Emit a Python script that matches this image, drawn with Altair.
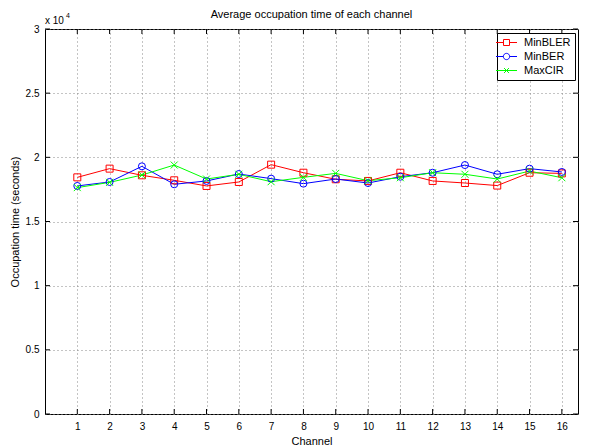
import altair as alt
import pandas as pd

channels = list(range(1, 17))
series_names = ["MinBLER", "MinBER", "MaxCIR"]
min_bler = [18440, 19120, 18600, 18210, 17770, 18080, 19430, 18800,
            18290, 18160, 18800, 18160, 18000, 17800, 18800, 18750]
min_ber = [17770, 18080, 19300, 17900, 18160, 18700, 18340, 17950,
           18310, 18000, 18490, 18800, 19400, 18680, 19120, 18860]
max_cir = [17640, 18050, 18620, 19400, 18310, 18680, 18100, 18440,
           18750, 18180, 18410, 18800, 18680, 18310, 18930, 18410]
y_ticks = [0, 5000, 10000, 15000, 20000, 25000, 30000]
colors = ["#FF0000", "#0000FF", "#00FF00"]
title_text = "Average occupation time of each channel"

rows = []
for name, vals in zip(series_names, [min_bler, min_ber, max_cir]):
    for c, v in zip(channels, vals):
        rows.append({"Channel": c, "Time": v, "Series": name})
df = pd.DataFrame(rows)
xt = pd.DataFrame({"Channel": channels})
yt = pd.DataFrame({"Time": y_ticks})

W, H = 533, 385
FONT = "Liberation Sans"

xscale = alt.Scale(domain=[0, 16.5], nice=False, zero=False)
yscale = alt.Scale(domain=[0, 30000], nice=False)
cscale = alt.Scale(domain=series_names, range=colors)

x_axis = alt.Axis(values=channels, title="Channel", grid=True,
                  gridDash=[1, 3], gridColor="#888888", ticks=False,
                  domain=False, labelPadding=7, titlePadding=4,
                  labelOverlap=False, labelFlush=False,
                  labelFontSize=10, titleFontSize=11,
                  labelFont=FONT, titleFont=FONT, labelColor="black",
                  titleColor="black", titleFontWeight="normal")
y_axis = alt.Axis(values=y_ticks, title="Occupation time (seconds)",
                  labelExpr="datum.value / 10000", grid=True,
                  gridDash=[1, 3], gridColor="#888888", ticks=False,
                  domain=False, labelPadding=6, titlePadding=5,
                  labelOverlap=False, labelFlush=False,
                  labelFontSize=10, titleFontSize=11,
                  labelFont=FONT, titleFont=FONT, labelColor="black",
                  titleColor="black", titleFontWeight="normal")


def X():
    return alt.X("Channel:Q", scale=xscale, axis=x_axis)


def Y():
    return alt.Y("Time:Q", scale=yscale, axis=y_axis)


base = alt.Chart(df)

lines = base.mark_line(strokeWidth=1).encode(
    x=X(), y=Y(),
    color=alt.Color("Series:N", scale=cscale, legend=None),
    detail="Series:N",
)

points = base.mark_point(filled=False, size=49, strokeWidth=1, opacity=1).encode(
    x=X(), y=Y(),
    color=alt.Color("Series:N", scale=cscale, legend=None),
    shape=alt.Shape("Series:N", scale=alt.Scale(
        domain=series_names,
        range=["square", "circle", "M-1,-1L1,1M-1,1L1,-1"]), legend=None),
)

leg_paths = [
    "M-3,0H-0.86M0.86,0H3M-0.86,-0.86H0.86V0.86H-0.86Z",
    "M-3,0H-0.9M0.9,0H3M0.9,0A0.9,0.9 0 1,1 -0.9,0A0.9,0.9 0 1,1 0.9,0Z",
    "M-3,0H3M-0.7,-0.7L0.7,0.7M-0.7,0.7L0.7,-0.7",
]

legend_layer = base.mark_point(filled=False, size=49, opacity=0, strokeWidth=1).encode(
    x=X(), y=Y(),
    color=alt.Color("Series:N", scale=cscale, legend=alt.Legend(title=None)),
    shape=alt.Shape("Series:N", scale=alt.Scale(domain=series_names, range=leg_paths),
                    legend=alt.Legend(title=None)),
)

xticks_b = alt.Chart(xt).mark_rule(color="black", strokeWidth=1).encode(
    x=X(), y=alt.value(H), y2=alt.value(H - 5))
xticks_t = alt.Chart(xt).mark_rule(color="black", strokeWidth=1).encode(
    x=X(), y=alt.value(0), y2=alt.value(5))
yticks_l = alt.Chart(yt).mark_rule(color="black", strokeWidth=1).encode(
    y=Y(), x=alt.value(0), x2=alt.value(5))
yticks_r = alt.Chart(yt).mark_rule(color="black", strokeWidth=1).encode(
    y=Y(), x=alt.value(W), x2=alt.value(W - 5))

exp_df = pd.DataFrame({"t": ["x 10"]})
exp_text = alt.Chart(exp_df).mark_text(align="left", baseline="alphabetic",
                                       fontSize=10, font=FONT, color="black").encode(
    x=alt.value(0), y=alt.value(-5), text="t:N")
sup_df = pd.DataFrame({"t": ["4"]})
sup_text = alt.Chart(sup_df).mark_text(align="left", baseline="alphabetic",
                                       fontSize=7, font=FONT, color="black").encode(
    x=alt.value(21), y=alt.value(-11), text="t:N")

title_df = pd.DataFrame({"t": [title_text]})
title_mark = alt.Chart(title_df).mark_text(align="center", baseline="alphabetic",
                                           fontSize=11, font=FONT, color="black").encode(
    x=alt.value(W / 2), y=alt.value(-11), text="t:N")

chart = alt.layer(
    lines, points, legend_layer, xticks_b, xticks_t, yticks_l, yticks_r,
    exp_text, sup_text, title_mark
).resolve_scale(color="independent", shape="independent").properties(
    width=W, height=H,
    padding={"left": 37, "top": 21, "right": 8, "bottom": 34},
    autosize=alt.AutoSizeParams(type="none"),
).configure_view(stroke="black", strokeWidth=1).configure_legend(
    orient="none", legendX=452, legendY=4, strokeColor="black", fillColor="white",
    padding=4, labelFontSize=11, labelFont=FONT, labelColor="black",
    symbolSize=49, symbolStrokeWidth=1, symbolOpacity=1, labelOffset=12,
    rowPadding=2, cornerRadius=0,
)

chart.save("out.html", embed_options={"renderer": "svg", "actions": False})
